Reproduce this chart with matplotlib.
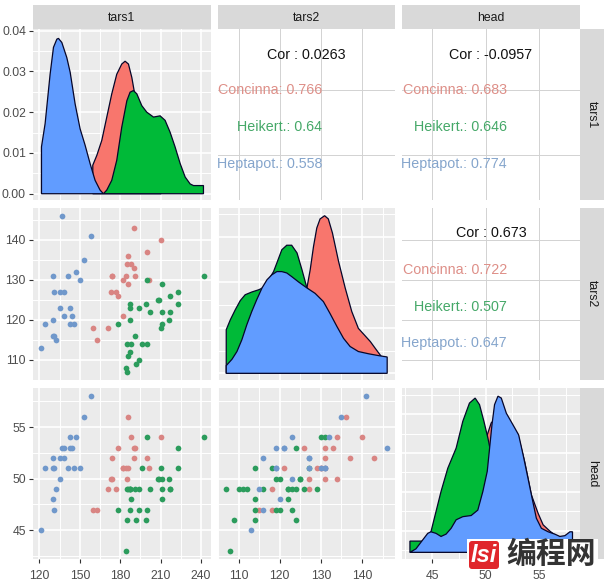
"""
Pairs plot of the flea measurements, drawn by hand as a grid of axes.
"""

import matplotlib

matplotlib.use("Agg")
import matplotlib.pyplot as plt
from matplotlib.patches import FancyBboxPatch, Rectangle

plt.rcParams["font.family"] = ["Liberation Sans", "DejaVu Sans"]

W, H = 607, 581

variables = ["tars1", "tars2", "head"]

# measurements per species
con_tars1 = [191, 185, 200, 173, 171, 160, 188, 186, 174, 163, 190, 174, 201, 190, 182, 184, 177, 178, 210, 182, 186]
con_tars2 = [131, 134, 137, 127, 118, 118, 134, 129, 131, 115, 143, 131, 130, 133, 130, 131, 127, 126, 140, 121, 136]
con_head = [53, 50, 52, 50, 49, 47, 54, 51, 52, 47, 52, 50, 51, 53, 51, 51, 49, 53, 54, 51, 56]

hei_tars1 = [184, 185, 192, 194, 186, 187, 185, 188, 200, 196, 191, 210, 211, 178, 187, 216,
             202, 211, 217, 187, 194, 187, 199, 223, 208, 217, 223, 211, 200, 242, 209]
hei_tars2 = [108, 107, 109, 110, 111, 112, 114, 114, 114, 114, 116, 118, 119, 119, 120, 120,
             122, 122, 122, 123, 123, 124, 124, 124, 125, 126, 127, 129, 130, 131, 125]
hei_head = [43, 49, 46, 49, 49, 49, 46, 48, 47, 51, 49, 51, 50, 47, 47, 50,
            49, 48, 49, 49, 47, 49, 46, 53, 50, 49, 51, 49, 54, 54, 50]

hep_tars1 = [137, 158, 153, 147, 130, 141, 150, 131, 135, 138, 135, 143, 138, 144, 130, 124, 143, 146, 130, 131, 132, 121]
hep_tars2 = [146, 141, 135, 132, 131, 131, 130, 127, 127, 127, 123, 123, 121, 121, 120, 119, 119, 119, 116, 116, 115, 113]
hep_head = [53, 58, 56, 54, 51, 51, 51, 51, 52, 52, 50, 54, 53, 53, 48, 51, 53, 51, 52, 47, 49, 45]

# density outlines
con_tars1_x = [159.6, 159.6, 162.6, 166.3, 170, 173.7, 177.4, 181.1, 183.6, 186.1, 188.6, 190.3, 194.8, 202.2, 209.6, 210.3]
con_tars1_y = [0, .0070, .0094, .0131, .0188, .0245, .0293, .0318, .0325, .0318, .0285, .0253, .0147, .0066, .0009, 0]
hei_tars1_x = [167.5, 170, 173.7, 177.4, 181.1, 184.9, 187.3, 189.8, 192.3, 196, 199.7, 204.7, 209.6, 213.3, 217,
               220.7, 224.5, 228.2, 231.9, 234.4, 241.8, 241.8]
hei_tars1_y = [0, .0009, .0033, .0082, .0163, .0228, .0249, .0253, .0245, .0216, .0200, .0188, .0191, .0180, .0151,
               .0115, .0074, .0041, .0024, .0020, .0020, 0]
hep_tars1_x = [121.5, 121.5, 124.2, 127.9, 130.4, 132.9, 134.1, 136.6, 140.3, 142.8, 146.5, 150.2, 153.9, 157.6, 161.3, 165, 167.5]
hep_tars1_y = [0, .0115, .0172, .0293, .0359, .0379, .0381, .0371, .0334, .0298, .0220, .0159, .0119, .0074, .0033, .0009, 0]

con_tars2_x = [111.6, 115.7, 119.7, 124.6, 126.6, 127.4, 128.2, 129, 129.8, 130.9, 131.8, 132.8, 134.3, 135.9, 137.5,
               139.1, 140.3, 142, 143.2, 144.6, 144.6]
con_tars2_y = [0, .0015, .0088, .0154, .0188, .0228, .0279, .0320, .0340, .0347, .0340, .0309, .0246, .0188, .0136,
               .0099, .0087, .0070, .0055, .0038, 0]
hei_tars2_x = [107, 107, 108, 109.2, 110.4, 111.6, 113.2, 114.9, 116.3, 117.3, 118.5, 119.3, 120.5, 121.7, 122.9, 124.2,
               125.4, 126.6, 127.8, 130.2, 132.7, 135.1, 137.5, 139.9, 141.6]
hei_tars2_y = [0, .0096, .0118, .0140, .0160, .0173, .0179, .0184, .0190, .0206, .0224, .0243, .0272, .0282, .0282, .0265,
               .0228, .0188, .0176, .0154, .0110, .0074, .0051, .0029, 0]
hep_tars2_x = [107, 107, 108.4, 109.6, 110.8, 112, 113.2, 114.4, 115.7, 116.9, 118.1, 119.3, 120.5, 121.7, 122.9, 124.6,
               126.6, 128.6, 130.6, 132.2, 133.9, 135.5, 137.1, 139.1, 141.6, 144, 146.1, 146.1]
hep_tars2_y = [0, .0017, .0031, .0048, .0074, .0107, .0136, .0162, .0188, .0206, .0217, .0224, .0224, .0221, .0213, .0201,
               .0188, .0176, .0158, .0132, .0103, .0077, .0059, .0048, .0043, .0039, .0036, 0]

con_head_x = [48.96, 49.59, 50.15, 50.52, 51, 51.93, 53.02, 53.64, 54.27, 54.89, 55.36, 55.98, 56.45, 56.45]
con_head_y = [0, .174, .303, .334, .347, .347, .303, .234, .148, .101, .071, .055, .045, 0]
hei_head_x = [42.94, 42.94, 44.13, 44.6, 44.9, 45.37, 45.84, 46.47, 47.25, 47.87, 48.49, 49.02, 49.43, 49.84, 50.21,
              50.4, 50.83, 51.46, 52.08, 52.71]
hei_head_y = [0, .029, .029, .045, .053, .105, .157, .217, .269, .338, .385, .398, .381, .338, .295,
              .269, .174, .088, .036, 0]
hep_head_x = [42.94, 43.5, 44.13, 44.6, 44.9, 45.37, 45.84, 46.31, 46.78, 47.25, 47.87, 48.65, 49.27, 49.74, 50.15, 50.37,
              50.59, 50.83, 51.15, 51.46, 51.93, 52.55, 53.08, 53.49, 53.95, 54.33, 54.73, 55.2, 55.83, 56.45, 56.92,
              57.39, 57.86, 58.1, 58.1]
hep_head_y = [0, .009, .032, .049, .053, .049, .041, .047, .062, .084, .092, .095, .109, .157, .209, .269,
              .329, .381, .403, .398, .359, .329, .303, .252, .191, .140, .088, .062, .053, .047, .041,
              .043, .053, .053, 0]

# correlation panels: overall, concinna, heikert, heptapot
cor_tars1_tars2 = ["0.0263", "0.766", "0.64", "0.558"]
cor_tars1_head = ["-0.0957", "0.683", "0.646", "0.774"]
cor_tars2_head = ["0.673", "0.722", "0.507", "0.647"]

# axis set-up
x_boxes = [(33, 211), (218, 395), (402, 580)]
y_boxes = [(29, 200), (208, 380), (388, 559)]
limits = {"tars1": (115.2, 247.4), "tars2": (105, 148), "head": (42.2, 58.8)}
major_ticks = {"tars1": [120, 150, 180, 210, 240], "tars2": [110, 120, 130, 140], "head": [45, 50, 55]}

fill_colors = ["#F8766D", "#00BA38", "#619CFF"]
dot_colors = ["#D98583", "#2B9C5C", "#7098CB"]
text_colors = ["#DE8F88", "#45A868", "#85A5CC"]
species = ["Concinna", "Heikert.", "Heptapot."]


def panel(row, col):
    """Create the axes for one cell of the grid from its pixel box."""
    x0, x1 = x_boxes[col]
    y0, y1 = y_boxes[row]
    return fig.add_axes([x0 / W, 1 - y1 / H, (x1 - x0) / W, (y1 - y0) / H])


def with_minor(ticks):
    """Return the midpoints between major ticks, plus one step beyond each end."""
    step = ticks[1] - ticks[0]
    return [ticks[0] - step / 2] + [t + step / 2 for t in ticks]


def style_grey(ax, xticks, yticks):
    """ggplot grey theme: grey panel, white grid, no frame."""
    ax.set_facecolor("#EBEBEB")
    for spine in ax.spines.values():
        spine.set_visible(False)
    ax.set_xticks(xticks)
    ax.set_yticks(yticks)
    for t in xticks:
        ax.axvline(t, color="white", lw=1.2, zorder=1)
    for t in yticks:
        ax.axhline(t, color="white", lw=1.2, zorder=1)
    for t in with_minor(xticks):
        ax.axvline(t, color="white", lw=0.7, zorder=1)
    for t in with_minor(yticks):
        ax.axhline(t, color="white", lw=0.7, zorder=1)
    ax.tick_params(which="major", length=2.6, width=0.8, color="#333333",
                   labelcolor="#4D4D4D", labelsize=8.8, pad=2.5)
    ax.tick_params(axis="x", which="major", pad=5)
    ax.tick_params(labelbottom=False, labelleft=False, bottom=False, left=False)


fig = plt.figure(figsize=(W / 100, H / 100), dpi=100, facecolor="white")

scatter_data = {
    "tars1": [con_tars1, hei_tars1, hep_tars1],
    "tars2": [con_tars2, hei_tars2, hep_tars2],
    "head": [con_head, hei_head, hep_head],
}
density_data = {
    "tars1": [(con_tars1_x, con_tars1_y), (hei_tars1_x, hei_tars1_y), (hep_tars1_x, hep_tars1_y)],
    "tars2": [(con_tars2_x, con_tars2_y), (hei_tars2_x, hei_tars2_y), (hep_tars2_x, hep_tars2_y)],
    "head": [(con_head_x, con_head_y), (hei_head_x, hei_head_y), (hep_head_x, hep_head_y)],
}
density_limits = {"tars1": (-0.00154, 0.0404), "tars2": (-0.00147, 0.0364), "head": (-0.0172, 0.424)}
density_ticks = {"tars1": [0, 0.01, 0.02, 0.03, 0.04], "tars2": [0, 0.01, 0.02, 0.03], "head": [0.056, 0.156, 0.256, 0.356]}
correlations = {(0, 1): cor_tars1_tars2, (0, 2): cor_tars1_head, (1, 2): cor_tars2_head}

# lower triangle
for row, col in [(1, 0), (2, 0), (2, 1)]:
    ax = panel(row, col)
    xvar, yvar = variables[col], variables[row]
    style_grey(ax, major_ticks[xvar], major_ticks[yvar])
    for xs, ys, color in zip(scatter_data[xvar], scatter_data[yvar], dot_colors):
        ax.scatter(xs, ys, s=17, color=color, linewidths=0, zorder=3)
    ax.set_xlim(limits[xvar])
    ax.set_ylim(limits[yvar])

# diagonal
for i, var in enumerate(variables):
    ax = panel(i, i)
    style_grey(ax, major_ticks[var], density_ticks[var])
    for (xs, ys), color in zip(density_data[var], fill_colors):
        ax.fill(xs, ys, facecolor=color, edgecolor="#06062A", lw=0.9, zorder=3)
    ax.set_xlim(limits[var])
    ax.set_ylim(density_limits[var])

# upper triangle
for (row, col), values in correlations.items():
    ax = panel(row, col)
    xvar, yvar = variables[col], variables[row]
    ax.set_facecolor("white")
    for spine in ax.spines.values():
        spine.set_visible(False)
    ax.set_xlim(limits[xvar])
    ax.set_ylim(limits[yvar])
    ax.set_xticks(major_ticks[xvar])
    ax.set_yticks(major_ticks[yvar] if row else [150, 200])
    ax.grid(True, color="#D2D2D2", lw=0.7)
    ax.tick_params(length=0, labelbottom=False, labelleft=False)

# tick labels only on the outside
axes = fig.axes
for ax, (row, col) in zip(axes, [(1, 0), (2, 0), (2, 1), (0, 0), (1, 1), (2, 2)]):
    if col == 0:
        ax.tick_params(left=True, labelleft=True)
    if row == 2:
        ax.tick_params(bottom=True, labelbottom=True)
axes[3].set_yticklabels(["0.00", "0.01", "0.02", "0.03", "0.04"])

# strips and text on top of everything, in pixel coordinates
over = fig.add_axes([0, 0, 1, 1], zorder=10)
over.set_xlim(0, W)
over.set_ylim(H, 0)
over.axis("off")

for col, var in enumerate(variables):
    x0, x1 = x_boxes[col]
    over.add_patch(Rectangle((x0, 5), x1 - x0, 24, color="#D9D9D9", lw=0))
    over.text((x0 + x1) / 2, 18, var, ha="center", va="center", fontsize=8.8, color="#1A1A1A")
for row, var in enumerate(variables):
    y0, y1 = y_boxes[row]
    over.add_patch(Rectangle((580, y0), 24, y1 - y0, color="#D9D9D9", lw=0))
    over.text(592, (y0 + y1) / 2, var, ha="center", va="center", rotation=-90, fontsize=8.8, color="#1A1A1A")

cor_rows = {(0, 1): (306, 322, [55, 90, 127, 164]),
            (0, 2): (491, 507, [55, 90, 127, 164]),
            (1, 2): (491, 507, [233, 270, 307, 343])}
for key, values in correlations.items():
    center, right, ys = cor_rows[key]
    over.text(center, ys[0], "Cor : " + values[0], ha="center", va="center", fontsize=10.3, color="#111111")
    for name, value, color, y in zip(species, values[1:], text_colors, ys[1:]):
        over.text(right, y, name + ": " + value, ha="right", va="center", fontsize=10.3, color=color)

# site watermark, bottom right
over.add_patch(Rectangle((467, 539), 131, 31, color="white", lw=0))
over.add_patch(FancyBboxPatch((469, 541), 30, 28, boxstyle="round,pad=0,rounding_size=3", color="#E0262B", lw=0))
over.text(484, 555, "lsi", ha="center", va="center", fontsize=17, color="white", style="italic", weight="bold")
over.text(551, 554, "编程网", ha="center", va="center", fontsize=21.5, color="#333333", weight="bold",
          family=["Noto Sans CJK SC", "DejaVu Sans"])

fig.savefig("out.png", dpi=100)
